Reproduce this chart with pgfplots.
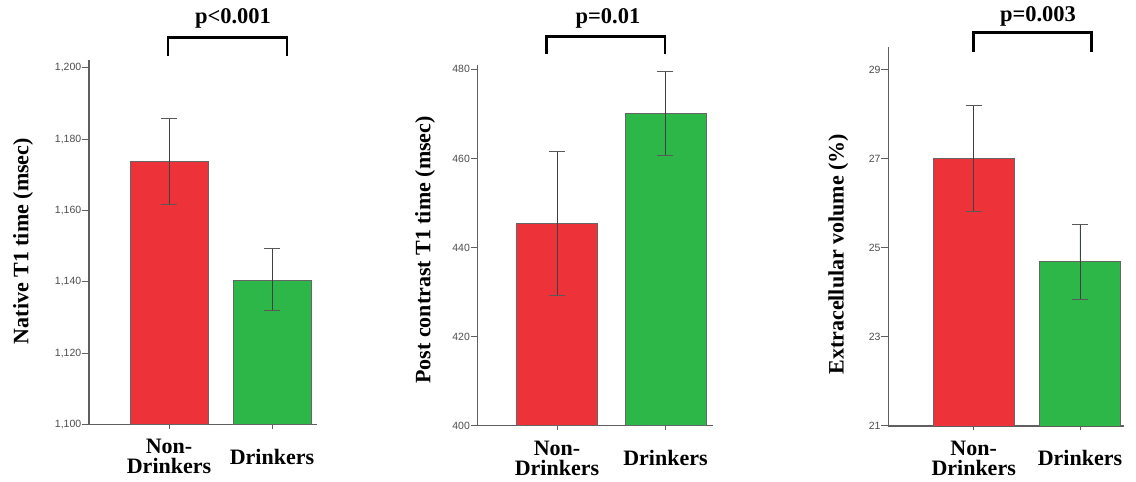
\documentclass[border=0pt]{standalone}
\usepackage{pgfplots}
\pgfplotsset{compat=1.18}
\usepackage{fontspec}
\setmainfont{Liberation Serif}
\newfontfamily\tickfont{Liberation Sans}

\definecolor{barred}{RGB}{238,50,58}
\definecolor{bargreen}{RGB}{45,183,73}
\definecolor{axisgray}{RGB}{95,95,95}

\pgfplotsset{
  panel/.style={
    scale only axis, anchor=south west,
    axis x line*=bottom, axis y line*=left,
    axis line style={axisgray, line width=1.1pt},
    tick align=outside,
    xtick={0,1},
    xticklabels={{Non-\\Drinkers},{Drinkers}},
    xticklabel style={font=\bfseries\fontsize{22}{20}\selectfont, align=center,
      anchor=center, yshift=-28pt, text=black},
    xtick style={axisgray, line width=0.6pt, /pgfplots/major tick length=4pt},
    ytick style={axisgray, line width=1pt, /pgfplots/major tick length=7pt},
    yticklabel style={font=\tickfont\fontsize{10.5}{11}\selectfont, text=black!70},
    /pgf/number format/.cd, 1000 sep={,}, assume math mode=true, /pgfplots/.cd,
    ylabel style={font=\bfseries\fontsize{22}{24}\selectfont, anchor=center},
  },
  bars/.style={
    ybar, bar width=#1, bar shift=0pt, draw=black!60, line width=0.8pt,
    error bars/y dir=both, error bars/y explicit,
    error bars/error bar style={line width=0.6pt, draw=black!75},
    error bars/error mark options={rotate=90, line width=1pt, mark size=8pt, draw=black!65},
  },
}

\begin{document}
\begin{tikzpicture}[x=1pt,y=1pt]
\useasboundingbox (0,0) rectangle (1136,482);

% Native T1
\begin{axis}[panel, at={(89pt,57.5pt)}, width=228pt, height=364.5pt,
  xmin=-0.777, xmax=1.437, ymin=1100, ymax=1202.2,
  ytick={1100,1120,1140,1160,1180,1200},
  ylabel={Native T1 time (msec)},
  ylabel style={at={(axis description cs:-0.289,0.503)}}]
\addplot[bars=78pt, fill=barred] coordinates {(0,1173.7) += (0,12.0) -= (0,11.9)};
\addplot[bars=78pt, fill=bargreen] coordinates {(1,1140.5) += (0,8.9) -= (0,8.6)};
\end{axis}

% Post contrast T1
\begin{axis}[panel, at={(477.7pt,56.3pt)}, width=235.3pt, height=360.7pt,
  xmin=-0.731, xmax=1.438, ymin=400, ymax=480.97,
  ytick={400,420,440,460,480},
  ylabel={Post contrast T1 time (msec)},
  ylabel style={at={(axis description cs:-0.224,0.487)}}]
\addplot[bars=81pt, fill=barred] coordinates {(0,445.4) += (0,16.1) -= (0,16.2)};
\addplot[bars=81pt, fill=bargreen] coordinates {(1,470.0) += (0,9.5) -= (0,9.3)};
\end{axis}

% Extracellular volume
\begin{axis}[panel, at={(888.3pt,56pt)}, width=235.7pt, height=379.3pt,
  xmin=-0.803, xmax=1.414, ymin=21, ymax=29.52,
  ytick={21,23,25,27,29},
  ylabel={Extracellular volume (\%)},
  ylabel style={at={(axis description cs:-0.212,0.453)}}]
\addplot[bars=81pt, fill=barred] coordinates {(0,27.02) += (0,1.19) -= (0,1.20)};
\addplot[bars=81pt, fill=bargreen] coordinates {(1,24.69) += (0,0.83) -= (0,0.84)};
\end{axis}

% significance brackets
\begin{scope}[line width=2.8pt, line cap=butt, line join=miter]
\draw (168,426) -- (168,444.5) -- (287,444.5) -- (287,426);
\draw (546.7,428) -- (546.7,445.3) -- (665,445.3) -- (665,428);
\draw (973.3,430.3) -- (973.3,449.7) -- (1091.7,449.7) -- (1091.7,430.3);
\end{scope}
\begin{scope}[every node/.style={font=\bfseries\fontsize{22.5}{24}\selectfont, inner sep=0pt}]
\node at (233,464) {p<0.001};
\node at (608,464) {p=0.01};
\node at (1038,465.3) {p=0.003};
\end{scope}
\end{tikzpicture}
\end{document}
